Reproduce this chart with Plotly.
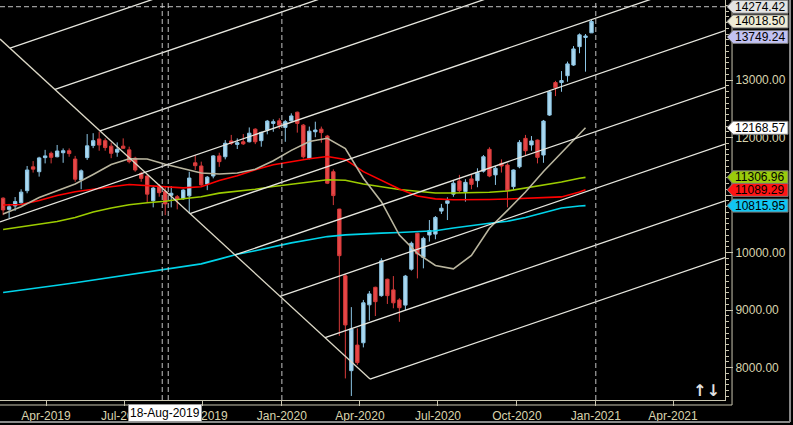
import plotly.graph_objects as go
import pandas as pd

# weekly bars (dated on Sundays)
dates = pd.date_range("2019-02-10", periods=99, freq="7D")

opens = [10945, 10750, 10810, 10865, 11075, 11490, 11405, 11650, 11725, 11665,
         11735, 11770, 11625, 11260, 11650, 11860, 11975, 11945, 11850, 11745,
         11850, 11785, 11640, 11375, 11330, 10900, 11155, 11060, 10995, 10970,
         10935, 10985, 11560, 11505, 11190, 11330, 11680, 11665, 11940, 11880,
         11925, 11925, 12145, 11945, 12130, 12245, 12290, 12175, 12290, 12440,
         12215, 11640, 12100, 12145, 12025, 11405, 10755, 9595, 7945, 8390,
         8430, 9090, 9395, 9250, 9535, 9350, 9175, 9085, 9710, 10335,
         9915, 10305, 10320, 10720, 10855, 11015, 11245, 11060, 11280, 11250,
         11415, 11795, 11350, 11550, 11520, 11145, 11490, 11985, 11870, 11955,
         11695, 12390, 12955, 12955, 13075, 13260, 13580, 13740, 13820]
highs = [10960, 10845, 10965, 11100, 11505, 11590, 11665, 11785, 11755, 11870,
         11810, 11810, 11680, 11445, 12060, 12075, 12100, 11985, 11910, 11915,
         11985, 11840, 11665, 11405, 11350, 11145, 11190, 11135, 11155, 11000,
         11100, 11405, 11695, 11580, 11330, 11695, 11735, 11955, 12045, 11985,
         12060, 12175, 12160, 12100, 12305, 12315, 12335, 12305, 12420, 12450,
         12235, 12190, 12275, 12190, 12045, 11445, 10760, 9625, 9050, 8680,
         9175, 9330, 9405, 9900, 9545, 9590, 9205, 9610, 10190, 10345,
         10275, 10565, 10635, 10845, 10960, 11260, 11350, 11275, 11350, 11465,
         11695, 11830, 11505, 11620, 11550, 11445, 11955, 12045, 12025, 11965,
         12305, 12825, 12985, 13155, 13320, 13590, 13810, 13800, 14050]
lows = [10650, 10600, 10725, 10850, 11030, 11390, 11320, 11550, 11550, 11655,
        11560, 11665, 11230, 11100, 11610, 11815, 11770, 11770, 11640, 11665,
        11805, 11550, 11405, 11230, 10865, 10785, 10970, 10650, 10785, 10750,
        10915, 10680, 11435, 11160, 11085, 11290, 11490, 11620, 11870, 11800,
        11870, 11915, 11885, 11840, 12055, 12100, 12150, 11925, 12275, 12085,
        11635, 11620, 12005, 11910, 11190, 10825, 8550, 7810, 7505, 8045,
        8350, 8815, 8895, 9230, 9105, 9030, 8795, 9000, 9685, 9550,
        9725, 10190, 10230, 10670, 10565, 10970, 11040, 10885, 11100, 11135,
        11390, 11310, 11175, 11390, 10785, 11085, 11465, 11680, 11770, 11550,
        11560, 12375, 12720, 12795, 12970, 13245, 13465, 13145, 13820]
closes = [10740, 10795, 10885, 11050, 11435, 11450, 11645, 11680, 11655, 11765,
          11770, 11720, 11275, 11420, 11855, 11945, 11870, 11825, 11725, 11795,
          11812, 11580, 11435, 11290, 11015, 11120, 11040, 10845, 11030, 10930,
          11085, 11295, 11510, 11175, 11310, 11680, 11580, 11900, 11900, 11910,
          11890, 12075, 11925, 12090, 12285, 12275, 12215, 12275, 12375, 12245,
          11665, 12110, 12130, 12085, 11205, 10990, 9945, 8740, 8670, 8085,
          9125, 9280, 9145, 9855, 9250, 9125, 9040, 9590, 10160, 9975,
          10245, 10380, 10610, 10770, 10900, 11205, 11075, 11220, 11185, 11390,
          11665, 11330, 11465, 11505, 11075, 11435, 11915, 11770, 11940, 11655,
          12285, 12795, 12865, 12990, 13280, 13540, 13785, 13765, 14018.5]

# moving averages, read every third bar (last point = value on the tags)
ma_bars = list(range(0, 97, 3)) + [97]
ma_dates = dates[ma_bars]
ma_short = [10670, 10797, 10957, 11070, 11191, 11356, 11530, 11631, 11626, 11534,
            11456, 11383, 11365, 11383, 11447, 11595, 11776, 11929, 11986, 11807,
            11292, 10884, 10304, 9984, 9774, 9717, 9951, 10421, 10732, 11052,
            11409, 11737, 12047, 12168.57]
ma_red = [10826, 10835, 10904, 10991, 11056, 11104, 11144, 11183, 11163, 11134,
          11124, 11144, 11254, 11334, 11438, 11525, 11584, 11631, 11670, 11619,
          11407, 11254, 11104, 10984, 10932, 10917, 10913, 10922, 10930, 10944,
          10953, 10967, 11052, 11089.29]
ma_green = [10400, 10444, 10496, 10539, 10609, 10704, 10774, 10831, 10866, 10892,
            10936, 10969, 11033, 11065, 11099, 11148, 11190, 11231, 11266, 11257,
            11190, 11143, 11096, 11065, 11035, 11035, 11037, 11047, 11070, 11118,
            11170, 11226, 11290, 11306.96]
ma_cyan = [9303, 9349, 9386, 9430, 9473, 9520, 9567, 9616, 9661, 9708,
           9753, 9802, 9885, 9970, 10031, 10099, 10167, 10221, 10277, 10306,
           10325, 10337, 10348, 10360, 10379, 10426, 10471, 10508, 10544, 10610,
           10690, 10774, 10809, 10815.95]

# drawn channel: a falling handle and parallel rising lines hanging off it
handle_dates = ["2019-02-06 09:00", "2020-04-12 19:00"]
handle_prices = [13713, 7800]
chan_start_dates = ["2019-02-18 01:00", "2019-04-11 13:00", "2019-06-03 00:00",
                    "2019-02-06 09:00", "2019-09-15 22:00", "2019-11-07 10:00",
                    "2019-12-29 21:00", "2020-02-20 08:00", "2020-04-12 19:00"]
chan_start_prices = [13553, 12835, 12115, 10532, 10677, 9957, 9238, 8518, 7800]
chan_end_date = "2021-05-31 15:00"
chan_end_prices = [17805, 16820, 15832, 14844, 13858, 12871, 11885, 10897, 9911]

x_range = ["2019-02-06 09:00", "2021-05-31 15:00"]
y_range = [7434.9, 14391.3]
x_ticks = ["2019-04-01", "2019-07-01", "2019-10-01", "2020-01-01", "2020-04-01",
           "2020-07-01", "2020-10-01", "2021-01-01", "2021-04-01"]
y_ticks = [8000, 9000, 10000, 11000, 12000, 13000, 14000]
y_ticktext = ["8000.00", "9000.00", "10000.00", "", "12000.00", "13000.00", ""]

year_marks = ["2020-01-01", "2021-01-01"]
cursor_marks = ["2019-08-14 12:00", "2019-08-21 12:00"]
cursor_date = "2019-08-18"
cursor_price = 14274.42

tag_values = [14274.42, 14018.50, 13749.24, 12168.57, 11306.96, 11089.29, 10815.95]
tag_colors = ["#e4e4e4", "#eeebd5", "#c2c2f2", "#ffffff", "#9acb0c", "#ff1414", "#12c6f2"]

axis_col = "#c9c6b0"
label_col = "#d9d4ae"
font_fam = "Liberation Sans, Arial, sans-serif"

fig = go.Figure()

fig.add_trace(
    go.Candlestick(
        x=dates, open=opens, high=highs, low=lows, close=closes,
        increasing=dict(line=dict(color="#8cc6e6", width=1), fillcolor="#acd9f0"),
        decreasing=dict(line=dict(color="#d83a3a", width=1), fillcolor="#e64848"),
        whiskerwidth=0,
        showlegend=False,
    )
)

for vals, col in [(ma_cyan, "#00d4ea"), (ma_green, "#9ccc00"),
                  (ma_red, "#ff0000"), (ma_short, "#b9b59e")]:
    fig.add_trace(
        go.Scatter(x=ma_dates, y=vals, mode="lines",
                   line=dict(color=col, width=1.6), showlegend=False)
    )

fig.add_trace(
    go.Scatter(x=handle_dates, y=handle_prices, mode="lines",
               line=dict(color="#dcd8c6", width=1.3), showlegend=False)
)
for d0, p0, p1 in zip(chan_start_dates, chan_start_prices, chan_end_prices):
    fig.add_trace(
        go.Scatter(x=[d0, chan_end_date], y=[p0, p1], mode="lines",
                   line=dict(color="#e6e6de", width=1.3), showlegend=False)
    )

shapes = []
for d in year_marks + cursor_marks:
    shapes.append(dict(type="line", xref="x", yref="paper", x0=d, x1=d, y0=0, y1=1,
                       line=dict(color="#c4c4c4", width=1, dash="5px,3px")))
shapes.append(dict(type="line", xref="paper", yref="y", x0=0, x1=1,
                   y0=cursor_price, y1=cursor_price,
                   line=dict(color="#c4c4c4", width=1, dash="5px,3px")))

# outer axis frame and window border
shapes.append(dict(type="line", xref="paper", yref="paper", x0=1.0097, x1=1.0097,
                   y0=-0.0125, y1=1, line=dict(color=axis_col, width=1)))
shapes.append(dict(type="line", xref="paper", yref="paper", x0=0, x1=1.0097,
                   y0=-0.0125, y1=-0.0125, line=dict(color=axis_col, width=1)))
shapes.append(dict(type="line", xref="paper", yref="paper", x0=1.0897, x1=1.0897,
                   y0=-0.055, y1=1, line=dict(color="#8a8a8a", width=2)))
shapes.append(dict(type="line", xref="paper", yref="paper", x0=0, x1=1.0897,
                   y0=-0.055, y1=-0.055, line=dict(color="#8a8a8a", width=2)))

annotations = []
for v, c in zip(tag_values, tag_colors):
    shapes.append(dict(type="path", xref="paper", yref="y",
                       xsizemode="pixel", ysizemode="pixel", xanchor=1, yanchor=v,
                       path="M 2,0 L 8,6.5 L 63,6.5 L 63,-6.5 L 8,-6.5 Z",
                       fillcolor=c, line=dict(color="#7a7a7a", width=1)))
    annotations.append(dict(xref="paper", yref="y", x=1, y=v, xanchor="left",
                            yanchor="middle", xshift=8, showarrow=False,
                            text=f"{v:.2f}",
                            font=dict(family=font_fam, size=12, color="#000000")))

annotations.append(dict(xref="x", yref="paper", x=cursor_date, y=-0.033,
                        xanchor="center", yanchor="middle", showarrow=False,
                        text="18-Aug-2019", bgcolor="#ffffff", bordercolor="#9a9a9a",
                        borderwidth=1, borderpad=1,
                        font=dict(family=font_fam, size=12, color="#000000")))
annotations.append(dict(xref="paper", yref="paper", x=0.975, y=0.025,
                        xanchor="center", yanchor="middle", showarrow=False,
                        text="<b>↑↓</b>",
                        font=dict(family="DejaVu Sans", size=16, color="#e2e2e2")))

fig.update_layout(
    width=793,
    height=425,
    margin=dict(l=0, r=68, t=0, b=25),
    paper_bgcolor="#000000",
    plot_bgcolor="#000000",
    showlegend=False,
    boxgap=0.2,
    shapes=shapes,
    annotations=annotations,
    font=dict(family=font_fam, size=12, color=label_col),
    xaxis=dict(
        type="date",
        range=x_range,
        rangeslider=dict(visible=False),
        tickmode="array",
        tickvals=x_ticks,
        tickformat="%b-%Y",
        ticks="outside",
        ticklen=5,
        tickcolor=axis_col,
        showline=True,
        linecolor=axis_col,
        linewidth=1,
        showgrid=False,
        zeroline=False,
        tickfont=dict(family=font_fam, size=12, color=label_col),
    ),
    yaxis=dict(
        side="right",
        range=y_range,
        tickmode="array",
        tickvals=y_ticks,
        ticktext=y_ticktext,
        ticks="outside",
        ticklen=7,
        tickcolor=axis_col,
        minor=dict(dtick=100, tick0=0, ticks="outside", ticklen=3, tickcolor=axis_col),
        showline=True,
        linecolor=axis_col,
        linewidth=1,
        showgrid=False,
        zeroline=False,
        tickfont=dict(family=font_fam, size=12, color=label_col),
    ),
)

# the page's default body margin would push the chart 8px right and down
fig.write_html("out.html", config={"displayModeBar": False},
               post_script="document.body.style.margin='0';"
               "document.body.style.background='#000';")
